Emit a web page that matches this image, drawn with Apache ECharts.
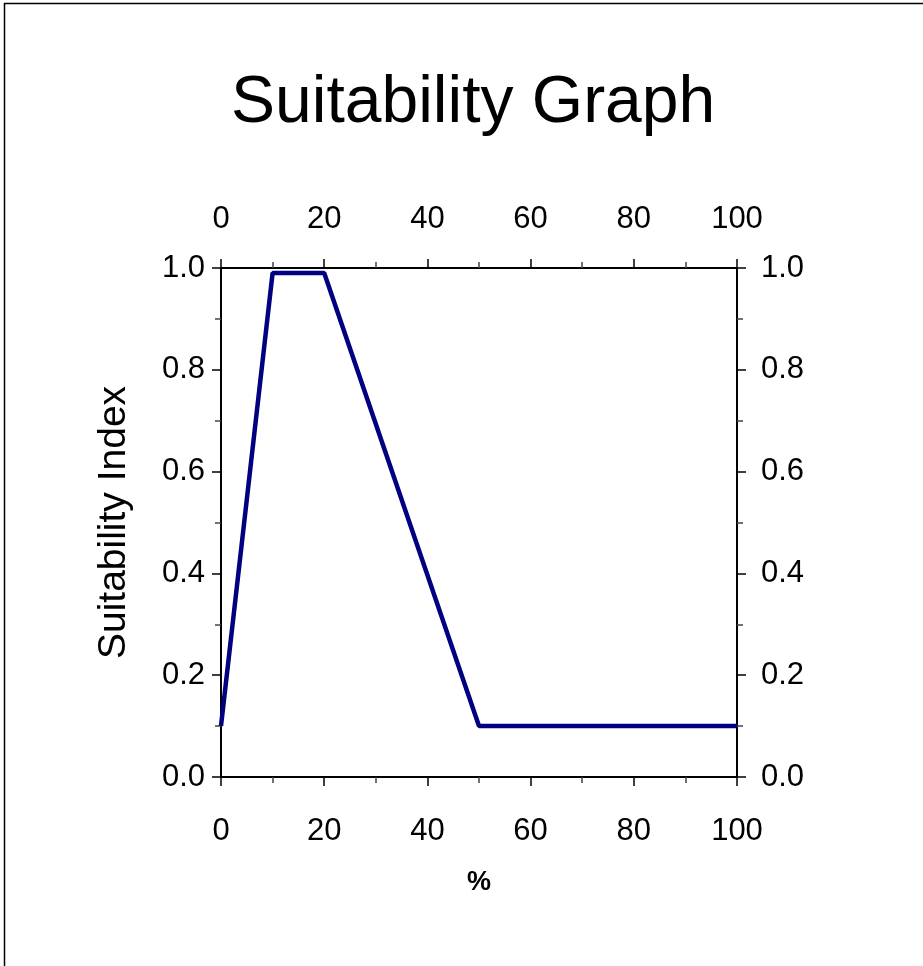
<!DOCTYPE html>
<html>
<head>
<meta charset="utf-8">
<script src="https://cdn.jsdelivr.net/npm/echarts@6/dist/echarts.min.js"></script>
<style>
html,body{margin:0;padding:0;background:#fff;}
#chart{width:923px;height:966px;}
</style>
</head>
<body>
<div id="chart"></div>
<script>
const xValues = [0, 10, 20, 50, 100];
const suitability = [0.1, 0.99, 0.99, 0.1, 0.1];
const titleText = 'Suitability Graph';
const xAxisName = '%';
const yAxisName = 'Suitability Index';

const FONT = '"Liberation Sans", Arial, sans-serif';
const chart = echarts.init(document.getElementById('chart'));

function xAxisCfg(pos) {
  return {
    type: 'value', position: pos, min: 0, max: 100, interval: 20,
    axisLine: { show: true, onZero: false, lineStyle: { color: '#000', width: 2 } },
    axisTick: { show: true, inside: false, length: 9, lineStyle: { color: '#000', width: 1.5 } },
    minorTick: { show: true, splitNumber: 2, length: 6, lineStyle: { color: '#444', width: 1.5 } },
    splitLine: { show: false },
    axisLabel: { color: '#000', fontSize: 31, fontFamily: FONT, margin: pos === 'top' ? 33 : 39 },
    name: pos === 'bottom' ? xAxisName : '',
    nameLocation: 'middle', nameGap: 92,
    nameTextStyle: { color: '#000', fontSize: 27, fontWeight: 'bold', fontFamily: FONT }
  };
}
function yAxisCfg(pos) {
  return {
    type: 'value', position: pos, min: 0, max: 1, interval: 0.2,
    axisLine: { show: true, onZero: false, lineStyle: { color: '#000', width: 2 } },
    axisTick: { show: true, inside: false, length: 9, lineStyle: { color: '#000', width: 1.5 } },
    minorTick: { show: true, splitNumber: 2, length: 6, lineStyle: { color: '#444', width: 1.5 } },
    splitLine: { show: false },
    axisLabel: { color: '#000', fontSize: 31, fontFamily: FONT, margin: pos === 'left' ? 16 : 24,
      formatter: v => v.toFixed(1) },
    name: pos === 'left' ? yAxisName : '',
    nameLocation: 'middle', nameGap: 87, nameRotate: 90,
    nameTextStyle: { color: '#000', fontSize: 39, fontFamily: FONT }
  };
}

chart.setOption({
  backgroundColor: '#fff',
  animation: false,
  title: {
    text: titleText, left: 226, top: 66,
    textStyle: { color: '#000', fontSize: 66, fontWeight: 'normal', fontFamily: FONT }
  },
  grid: { left: 221, right: 186, top: 268, bottom: 189, containLabel: false },
  xAxis: [xAxisCfg('bottom'), xAxisCfg('top')],
  yAxis: [yAxisCfg('left'), yAxisCfg('right')],
  graphic: [{
    type: 'rect', silent: true,
    shape: { x: 4.5, y: 3.5, width: 1200, height: 1200 },
    style: { fill: 'none', stroke: '#000', lineWidth: 1.5 }
  }],
  series: [{
    type: 'line', xAxisIndex: 0, yAxisIndex: 0,
    data: xValues.map((x, i) => [x, suitability[i]]),
    showSymbol: false, symbol: 'none',
    lineStyle: { color: '#000080', width: 4.5 },
    clip: false
  }]
});
</script>
</body>
</html>
